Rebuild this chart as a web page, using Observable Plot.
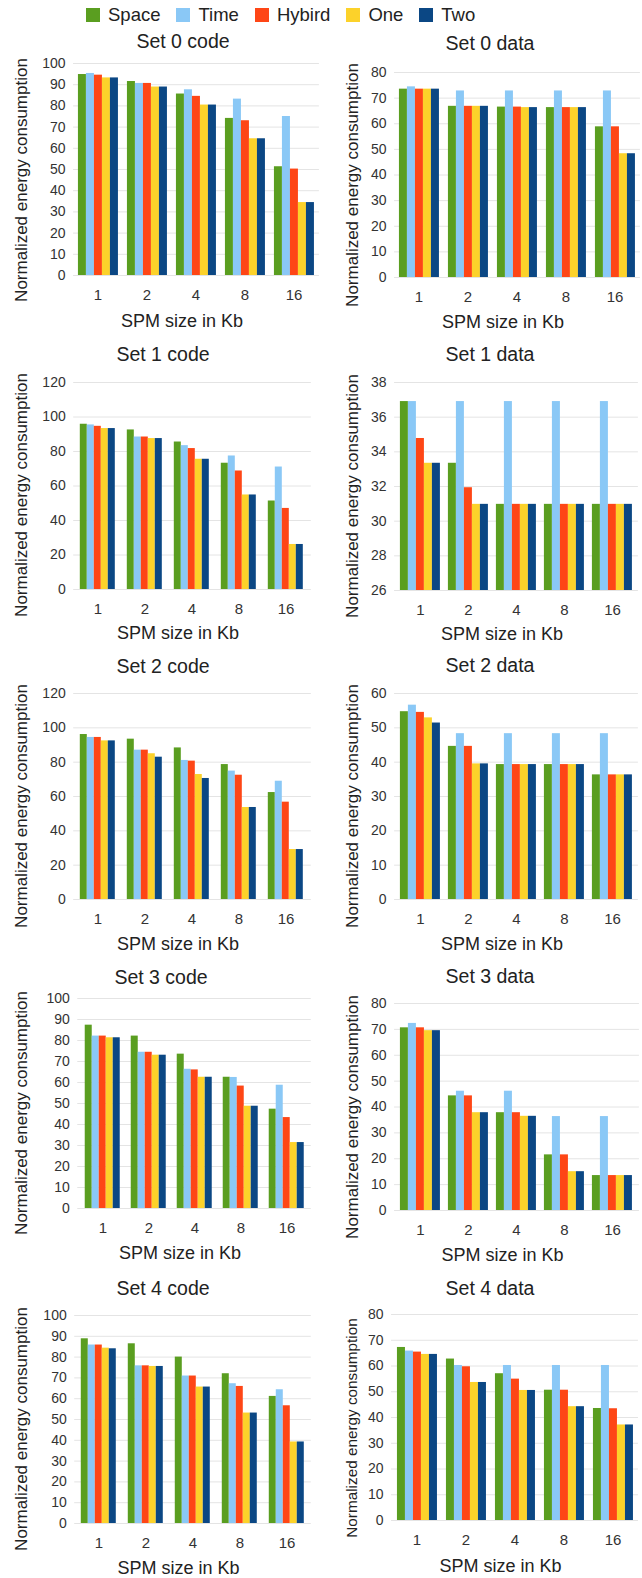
<!DOCTYPE html>
<html><head><meta charset="utf-8">
<script src="https://cdn.jsdelivr.net/npm/d3@7"></script>
<script src="https://cdn.jsdelivr.net/npm/@observablehq/plot@0.6"></script>
<style>
body{margin:0;background:#fff;}
#root{position:relative;width:642px;height:1578px;font-family:"Liberation Sans",Arial,sans-serif;color:#222;overflow:hidden;background:#fff}
.layer{position:absolute}
.txt{position:absolute;transform:translate(-50%,-50%);white-space:nowrap;line-height:1}
.ytxt{position:absolute;transform:translate(-50%,-50%) rotate(-90deg);white-space:nowrap;line-height:1}
#legend{position:absolute;left:86px;top:5px;display:flex;align-items:center;gap:16px;font-size:18.5px;line-height:20px}
#legend .it{display:flex;align-items:center;gap:8px}
#legend .sw{width:14px;height:14px;display:inline-block}
</style></head><body><div id="root"><div id="legend"></div></div><script>
const sizes = ["1","2","4","8","16"];
const series = ["Space","Time","Hybird","One","Two"];
const colors = ["#5a9e20","#8ac8f6","#fe4616","#fcd22a","#0b4784"];

// rows: SPM size 1,2,4,8,16 ; columns: Space, Time, Hybird, One, Two
const set0code = [[94.8,95.3,94.5,93.2,93.2],[91.5,90.6,90.6,88.9,88.9],[85.6,87.6,84.5,80.4,80.4],[74.1,83.2,73.0,64.5,64.5],[51.3,75.0,50.2,34.4,34.4]];
const set0data = [[73.5,74.4,73.5,73.5,73.5],[66.8,72.8,66.8,66.8,66.8],[66.5,72.8,66.5,66.3,66.3],[66.3,72.8,66.3,66.3,66.3],[58.8,72.8,58.8,48.3,48.3]];
const set1code = [[95.8,95.4,94.6,93.3,93.3],[92.5,88.4,88.4,87.5,87.5],[85.5,83.4,81.7,75.5,75.5],[73.2,77.4,68.7,54.8,54.8],[51.3,71.0,47.0,26.1,26.1]];
const set1data = [[36.9,36.9,34.77,33.34,33.34],[33.34,36.9,31.93,30.97,30.97],[30.97,36.9,30.97,30.97,30.97],[30.97,36.9,30.97,30.97,30.97],[30.97,36.9,30.97,30.97,30.97]];
const set2code = [[96.1,94.4,94.4,92.4,92.4],[93.4,87.0,87.0,84.9,82.9],[88.3,81.0,80.6,72.8,70.5],[78.6,74.8,72.4,53.6,53.6],[62.3,68.9,56.7,29.1,29.1]];
const set2data = [[54.7,56.6,54.5,52.9,51.4],[44.6,48.3,44.6,39.5,39.5],[39.3,48.3,39.3,39.3,39.3],[39.3,48.3,39.3,39.3,39.3],[36.3,48.3,36.3,36.3,36.3]];
const set3code = [[87.3,82.1,82.1,81.3,81.3],[82.1,74.4,74.4,73.0,73.0],[73.5,66.3,66.0,62.5,62.5],[62.5,62.4,58.3,48.7,48.7],[47.3,58.7,43.3,31.4,31.4]];
const set3data = [[70.6,72.3,70.6,69.5,69.5],[44.3,46.1,44.3,37.8,37.8],[37.8,46.1,37.8,36.4,36.4],[21.5,36.3,21.5,15.0,15.0],[13.5,36.3,13.5,13.5,13.5]];
const set4code = [[88.8,85.8,85.8,84.3,84.0],[86.4,75.8,75.8,75.5,75.5],[80.0,70.9,70.9,65.6,65.6],[72.0,67.2,65.9,53.1,53.1],[61.1,64.3,56.6,39.2,39.2]];
const set4data = [[67.2,65.8,65.4,64.5,64.5],[62.7,60.2,59.7,53.6,53.6],[57.0,60.2,54.9,50.5,50.5],[50.6,60.2,50.6,44.2,44.2],[43.5,60.2,43.4,37.1,37.1]];

const ticks100 = [0,10,20,30,40,50,60,70,80,90,100];
const ticks80 = [0,10,20,30,40,50,60,70,80];
const ticks120 = [0,20,40,60,80,100,120];
const ticks60 = [0,10,20,30,40,50,60];
const ticks26to38 = [26,28,30,32,34,36,38];

const yTitle = "Normalized energy consumption";
const xTitle = "SPM size in Kb";

// layout (pixels)
const panels = [
 {title:"Set 0 code", values:set0code, ticks:ticks100, col:0, top:63.3, bottom:275.7, barL:77, barR:315, tx:183, ty:42},
 {title:"Set 0 data", values:set0data, ticks:ticks80, col:1, top:72, bottom:277.3, barL:398, barR:636, tx:490, ty:44},
 {title:"Set 1 code", values:set1code, ticks:ticks120, col:0, top:381.7, bottom:588.3, barL:77, barR:307, tx:163, ty:355},
 {title:"Set 1 data", values:set1data, ticks:ticks26to38, col:1, top:381.7, bottom:589.3, barL:398, barR:634, tx:490, ty:355},
 {title:"Set 2 code", values:set2code, ticks:ticks120, col:0, top:693.3, bottom:899.3, barL:77, barR:307, tx:163, ty:667},
 {title:"Set 2 data", values:set2data, ticks:ticks60, col:1, top:693.3, bottom:899.3, barL:398, barR:634, tx:490, ty:666},
 {title:"Set 3 code", values:set3code, ticks:ticks100, col:0, top:998.3, bottom:1208.3, barL:81, barR:307, tx:161, ty:978},
 {title:"Set 3 data", values:set3data, ticks:ticks80, col:1, top:1003.3, bottom:1210, barL:398, barR:635, tx:490, ty:977},
 {title:"Set 4 code", values:set4code, ticks:ticks100, col:0, top:1315, bottom:1523.3, barL:78, barR:307, tx:163, ty:1289},
 {title:"Set 4 data", values:set4data, ticks:ticks80, col:1, top:1314.3, bottom:1520.7, barL:395, barR:634, tx:490, ty:1289, yts:15.3}
];

const root = document.getElementById("root");
const legend = document.getElementById("legend");
series.forEach((s,i)=>{
  const it = document.createElement("div"); it.className="it";
  it.innerHTML = `<span class="sw" style="background:${colors[i]}"></span><span>${s}</span>`;
  legend.appendChild(it);
});

function addText(cls, text, x, y, size){
  const d = document.createElement("div");
  d.className = cls; d.textContent = text;
  d.style.left = x+"px"; d.style.top = y+"px"; d.style.fontSize = size+"px";
  root.appendChild(d);
}

const PI = 0.16, PO = 0.08, W = 321;
for (const p of panels) {
  const colX = p.col * 321;
  const step = (p.barR - p.barL) / (5 - PI);
  const frameL = p.barL - PO*step, frameR = p.barR + PO*step;
  const mt = 12, mb = 34;
  const height = Math.round((p.bottom - p.top) + mt + mb);
  const ml = frameL - colX, mr = colX + W - frameR;
  const yDomain = [p.ticks[0], p.ticks[p.ticks.length-1]];
  const data = p.values.flatMap((row,i)=>row.map((v,j)=>({size:sizes[i], series:series[j], value:v})));
  const common = {width:W, height, marginTop:mt, marginBottom:mb, marginLeft:ml, marginRight:mr,
    style:{fontFamily:'"Liberation Sans",Arial,sans-serif', background:"transparent", color:"#333", overflow:"visible"}};
  const bg = Plot.plot({...common,
    y:{domain:yDomain, axis:null},
    marks:[
      Plot.gridY(p.ticks, {stroke:"#e4e4e4", strokeOpacity:1}),
      Plot.axisY(p.ticks, {tickSize:0, tickPadding:8, fontSize:14, label:null, fill:"#333"})
    ]});
  const fg = Plot.plot({...common,
    y:{domain:yDomain, axis:null},
    x:{domain:series, padding:0, axis:null},
    fx:{domain:sizes, paddingInner:PI, paddingOuter:PO, label:null},
    color:{domain:series, range:colors},
    marks:[
      Plot.barY(data, {fx:"size", x:"series", y1:yDomain[0], y2:"value", fill:"series"}),
      Plot.axisFx({anchor:"bottom", tickSize:0, tickPadding:14, fontSize:15, label:null, fill:"#333"})
    ]});
  for (const svg of [bg, fg]) {
    const wrap = document.createElement("div");
    wrap.className = "layer";
    wrap.style.left = colX+"px"; wrap.style.top = (p.top - mt)+"px";
    wrap.appendChild(svg);
    root.appendChild(wrap);
  }
  addText("txt", p.title, p.tx, p.ty, 19.5);
  addText("txt", xTitle, (frameL+frameR)/2 - 14, p.bottom + 45, 18);
  addText("ytxt", yTitle, colX + (p.col ? 31 : 21), (p.top+p.bottom)/2 + 10, p.yts || 17);
}
</script></body></html>
